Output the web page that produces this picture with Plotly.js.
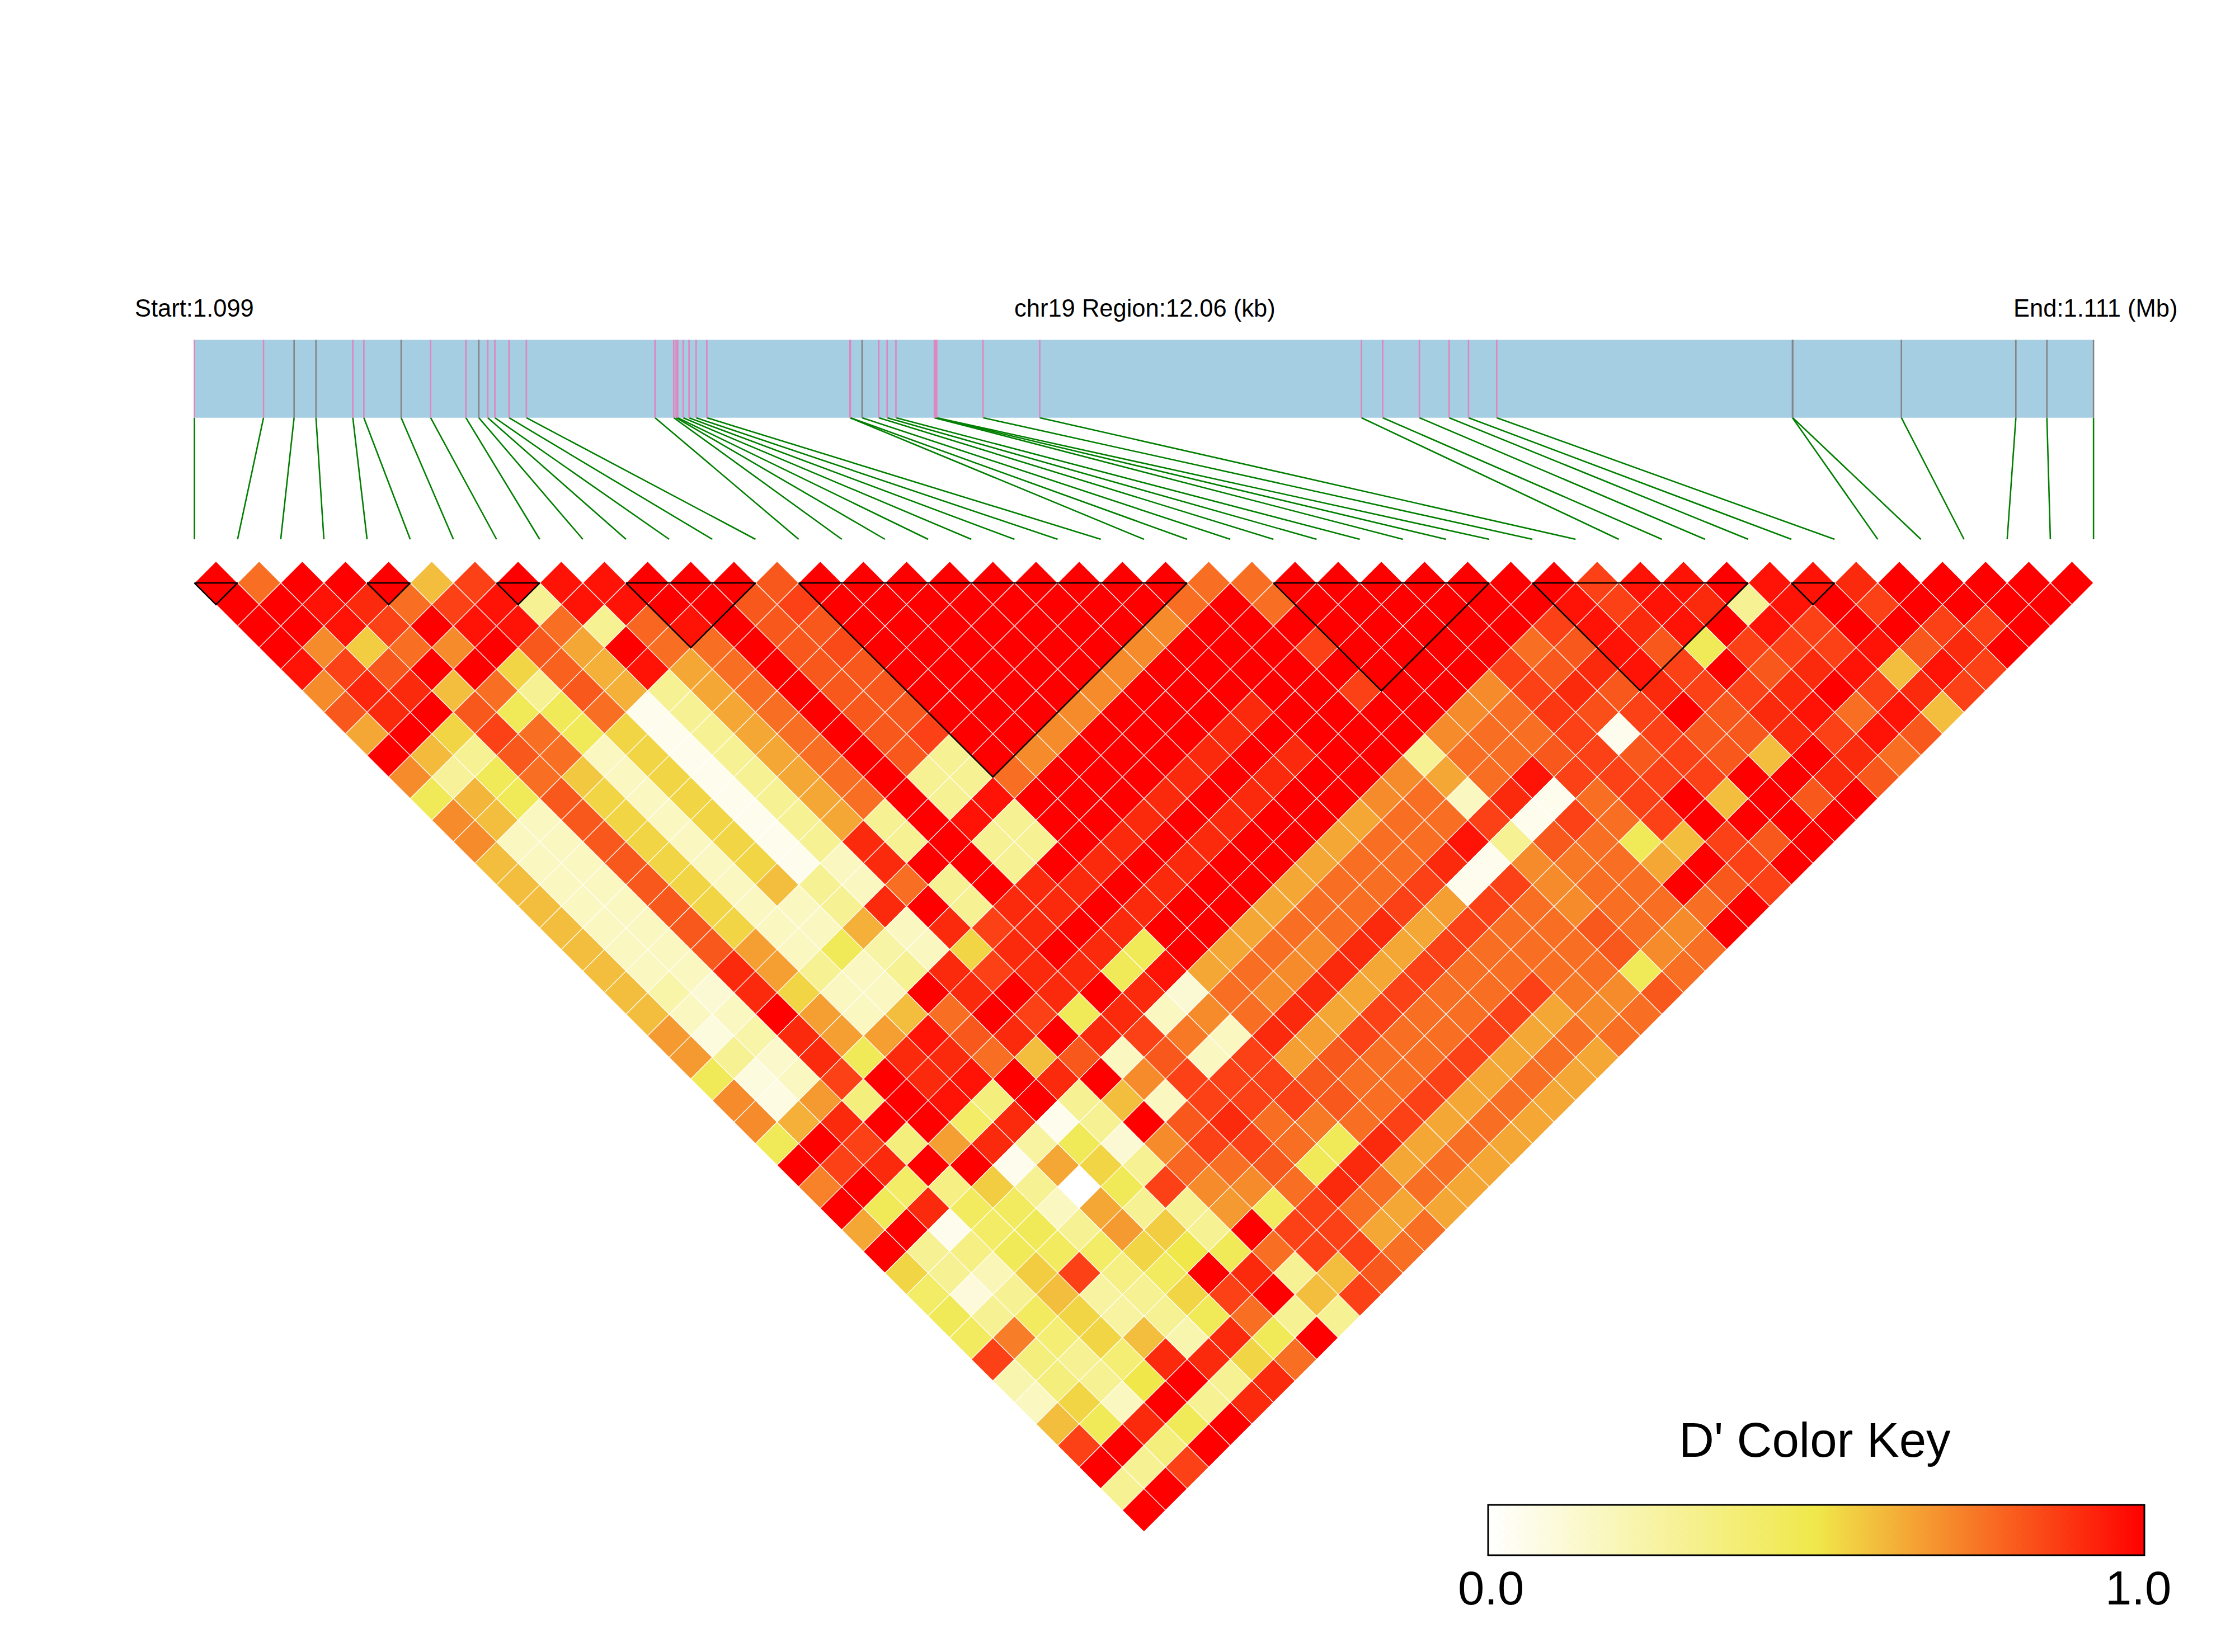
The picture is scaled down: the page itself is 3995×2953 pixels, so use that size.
<!DOCTYPE html>
<html>
<head>
<meta charset="utf-8">
<script src="https://cdn.plot.ly/plotly-3.0.1.min.js"></script>
<style>html,body{margin:0;padding:0;background:#fff}</style>
</head>
<body>
<div id="chart" style="width:3995px;height:2953px"></div>
<script>
// SNP positions along the region, in kb from the region start
const snpKb = [0,0.439,0.633,0.772,1.006,1.076,1.313,1.5,1.724,1.806,1.863,1.908,1.998,2.108,2.925,3.044,3.059,3.069,3.104,3.141,3.186,3.254,4.163,4.166,4.24,4.346,4.399,4.455,4.699,4.705,4.714,5.008,5.368,7.411,7.546,7.779,7.968,8.091,8.27,10.148,10.15,10.84,11.567,11.764,12.06];
const greySnps = [2,3,6,9,24,39,40,41,42,43,44];
const regionKb = 12.06;
// LD blocks: first and last SNP boundary
const blocks = [[0,1],[4,5],[7,8],[10,13],[14,23],[25,30],[31,36],[37,38]];
// D' x 100, one array per SNP separation (row 0 = adjacent SNPs)
const d00=[100,76,100,100,100,59,86,100,96,96,100,100,100,81,100,100,100,100,100,100,100,100,100,76,76,100,100,100,100,100,100,100,86,96,96,100,96,96,91,100,100,100,100,100];
const d01=[100,100,96,91,76,86,96,30,96,96,100,100,81,86,100,100,100,100,100,100,100,100,76,100,76,100,100,100,100,100,100,96,86,96,91,30,96,100,86,100,100,100,100];
const d02=[100,100,96,86,100,96,96,76,30,78,96,100,81,81,100,100,100,100,100,100,100,70,100,100,100,100,100,100,100,100,86,96,91,96,100,96,86,100,100,86,86,100];
const d03=[100,70,56,76,70,100,81,64,100,76,76,100,81,84,100,100,100,100,100,100,70,100,100,100,86,100,100,100,100,76,81,96,81,46,86,86,86,96,81,91,100];
const d04=[96,86,81,100,100,54,79,62,96,64,76,100,81,81,100,100,100,100,100,70,100,100,100,100,100,100,100,100,86,81,91,96,86,100,81,91,96,59,96,86];
const d05=[70,92,91,59,76,30,81,62,30,64,76,100,81,81,100,100,100,100,70,100,100,100,100,100,86,100,100,70,86,91,81,91,86,86,91,100,86,91,86];
const d06=[81,91,100,81,46,46,76,5,30,64,76,100,81,81,100,100,100,70,100,100,100,91,100,100,100,100,70,76,88,83,86,100,81,91,96,76,96,59];
const d07=[64,100,54,86,76,46,54,5,30,64,76,100,81,86,100,100,70,100,100,100,91,100,100,100,100,70,76,76,86,5,86,81,81,91,86,96,81];
const d08=[100,60,30,81,76,17,54,5,30,64,76,100,81,30,100,70,100,100,100,91,100,91,100,100,30,76,76,81,86,81,86,81,59,100,91,76];
const d09=[70,28,46,76,57,17,54,5,30,64,76,100,30,30,76,100,100,100,91,100,91,100,100,70,64,76,96,86,86,86,86,100,100,91,81];
const d10=[46,61,46,81,54,17,54,5,30,64,76,100,30,96,100,100,100,91,100,91,100,100,70,76,17,91,5,76,86,100,59,100,81,100];
const d11=[70,59,17,81,54,17,54,5,30,64,30,100,96,30,100,100,91,100,91,100,100,64,76,76,86,5,86,76,86,100,100,100,100];
const d12=[70,17,17,81,54,17,54,5,30,91,30,100,30,30,100,91,100,91,100,100,64,76,76,96,30,81,76,46,59,86,81,100];
const d13=[59,17,17,81,54,17,54,5,17,91,100,100,30,100,91,100,91,100,100,64,76,76,91,5,70,74,76,64,100,86,100];
const d14=[59,17,17,81,54,17,59,30,17,76,30,100,91,91,100,91,100,100,64,76,76,86,5,86,70,76,76,100,81,86];
const d15=[59,17,17,81,54,17,17,30,91,100,30,91,91,100,91,100,100,64,76,76,86,66,86,76,70,76,76,76,100];
const d16=[59,17,17,81,54,17,17,62,17,91,86,91,100,91,100,100,64,76,76,91,64,86,76,76,81,76,70,100];
const d17=[59,17,17,81,66,17,46,25,17,54,91,100,91,46,100,64,76,70,91,64,86,76,76,76,81,70,76];
const d18=[59,17,17,91,66,30,17,30,91,86,91,91,46,96,64,76,70,91,64,86,76,76,76,76,46,76];
const d19=[59,24,12,91,54,17,17,100,91,100,91,100,91,12,76,70,91,64,86,76,76,86,74,70,81];
const d20=[59,17,17,100,66,17,59,76,100,86,46,91,17,70,76,91,64,86,76,76,86,64,70,76];
const d21=[67,9,24,91,66,66,96,81,91,100,91,86,74,17,91,66,86,76,76,86,64,76,76];
const d22=[67,30,14,91,46,91,91,76,59,81,17,81,17,86,66,81,76,76,86,64,76,64];
const d23=[46,9,17,86,100,91,96,100,91,100,70,86,86,86,81,76,76,86,64,76,64];
const d24=[70,8,67,36,100,96,36,100,30,59,17,86,86,86,81,76,86,64,76,64];
const d25=[70,62,91,100,100,42,91,5,30,100,81,91,76,74,76,86,64,76,64];
const d26=[46,100,86,36,66,91,26,46,12,70,86,86,76,46,91,64,76,64];
const d27=[100,86,91,100,100,5,64,54,30,78,76,81,46,91,64,76,64];
const d28=[72,100,42,34,56,30,0,46,86,70,70,76,91,76,76,64];
const d29=[100,46,91,44,44,17,64,30,30,67,44,86,76,64,64];
const d30=[64,100,5,42,46,30,67,56,30,100,86,86,64,76];
const d31=[100,30,34,46,44,42,54,50,46,76,86,86,76];
const d32=[54,30,20,56,86,34,44,100,91,30,59,81];
const d33=[42,10,30,59,26,30,54,86,100,59,86];
const d34=[46,30,44,54,26,30,46,76,30,30];
const d35=[44,73,38,54,59,22,91,46,100];
const d36=[86,36,30,38,91,91,54,76];
const d37=[22,36,30,50,100,30,91];
const d38=[17,54,17,100,30,91];
const d39=[59,46,91,46,100];
const d40=[86,100,36,100];
const d41=[100,30,86];
const d42=[30,100];
const d43=[100];
const rows=[d00,d01,d02,d03,d04,d05,d06,d07,d08,d09,d10,d11,d12,d13,d14,d15,d16,d17,d18,d19,d20,d21,d22,d23,d24,d25,d26,d27,d28,d29,d30,d31,d32,d33,d34,d35,d36,d37,d38,d39,d40,d41,d42,d43];

const W=3995,H=2953,left=347.5,step=77.15,top0=1042,rowH=38.55;
const yOf=px=>(px-top0)/rowH;
const cx=[],cy=[],cz=[];
rows.forEach((r,d)=>r.forEach((v,m)=>{cx.push(m+(d+1)/2);cy.push(d);cz.push(v/100);}));
const colors=[[0,'#FFFFFF'],[0.5,'#F0E84A'],[1,'#FF0000']];
const n=snpKb.length-1;
const kbU=k=>k*n/regionKb;
const yT=yOf(607.5),yB=yOf(746.7),yE=yOf(964);
const gx=[],gy=[],px=[],py=[],qx=[],qy=[];
snpKb.forEach((k,i)=>{
  gx.push(kbU(k),i,null);gy.push(yB,yE,null);
  if(greySnps.includes(i)){qx.push(kbU(k),kbU(k),null);qy.push(yT,yB,null);}
  else{px.push(kbU(k),kbU(k),null);py.push(yT,yB,null);}
});
const bx=[],by=[];
blocks.forEach(([a,b])=>{bx.push(a,b,(a+b)/2,a,null);by.push(0,0,b-a,0,null);});

const traces=[
 {type:'scatter',mode:'lines',x:gx,y:gy,line:{color:'#007F00',width:2.6},hoverinfo:'skip',showlegend:false},
 {type:'scatter',mode:'lines',x:px,y:py,line:{color:'#E085BE',width:2.6},hoverinfo:'skip',showlegend:false},
 {type:'scatter',mode:'lines',x:qx,y:qy,line:{color:'#848484',width:2.6},hoverinfo:'skip',showlegend:false},
 {type:'scatter',mode:'markers',x:cx,y:cy,hoverinfo:'skip',showlegend:false,
  marker:{symbol:'diamond',size:step/1.3,color:cz,cmin:0,cmax:1,colorscale:colors,line:{color:'#FFFFFF',width:1.2},
   colorbar:{orientation:'h',lenmode:'pixels',len:1173,thicknessmode:'pixels',thickness:90,
     x:2660/W,xanchor:'left',y:(H-2690)/H,yanchor:'top',xpad:0,ypad:0,
     outlinecolor:'#000',outlinewidth:3,borderwidth:0,ticks:'',showticklabels:false}}},
 {type:'scatter',mode:'lines',x:bx,y:by,line:{color:'#000',width:2.6},hoverinfo:'skip',showlegend:false}
];
const font=(s)=>({family:'Liberation Sans, Arial, sans-serif',size:s,color:'#000'});
const ann=(text,x,y,s,anchor)=>({text,xref:'paper',yref:'paper',x:x/W,y:1-y/H,xanchor:anchor,yanchor:'middle',showarrow:false,font:font(s)});
const layout={width:W,height:H,margin:{l:0,r:0,t:0,b:0,autoexpand:false},paper_bgcolor:'#fff',plot_bgcolor:'#fff',showlegend:false,
 xaxis:{visible:false,range:[-left/step,(W-left)/step],domain:[0,1],fixedrange:true},
 yaxis:{visible:false,range:[yOf(H),yOf(0)],domain:[0,1],fixedrange:true},
 shapes:[{type:'rect',xref:'x',yref:'y',x0:0,x1:n,y0:yT,y1:yB,fillcolor:'#A6CEE3',line:{width:0},layer:'below'}],
 annotations:[
  ann('Start:1.099',347,551,43.5,'center'),
  ann('chr19 Region:12.06 (kb)',2046,551,43.5,'center'),
  ann('End:1.111 (Mb)',3745,551,43.5,'center'),
  ann("D' Color Key",3244,2573,87,'center'),
  ann('0.0',2665,2838,85,'center'),
  ann('1.0',3822,2838,85,'center')
 ]};
Plotly.newPlot('chart',traces,layout,{displayModeBar:false,staticPlot:true});
</script>
</body>
</html>
